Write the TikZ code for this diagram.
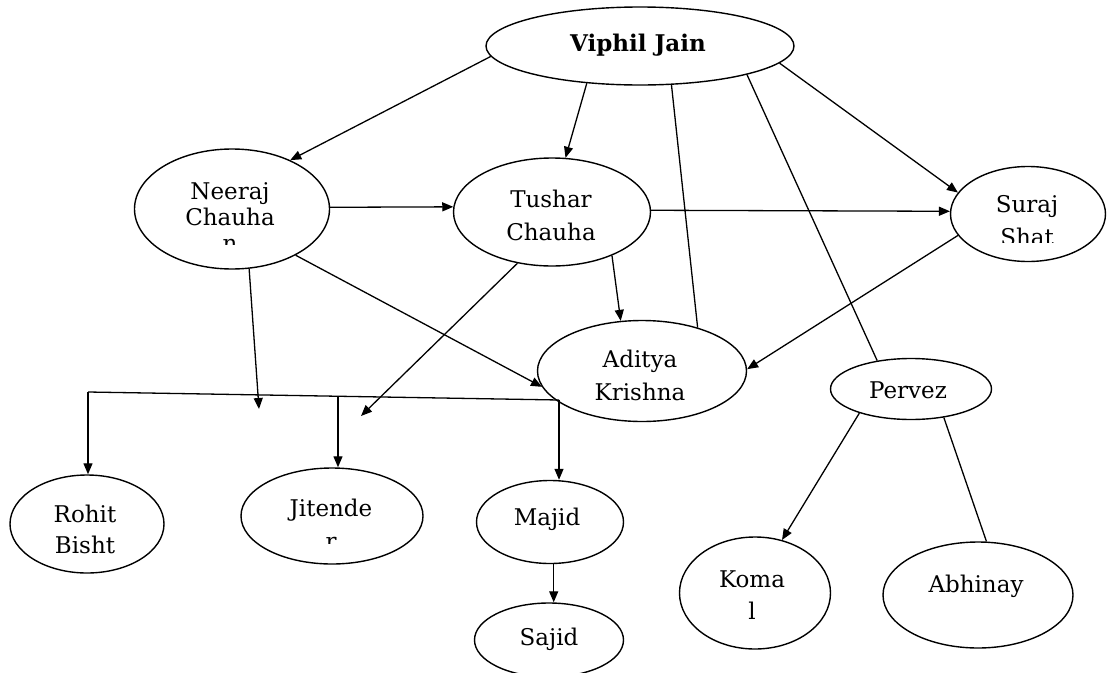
\documentclass[tikz,border=0pt]{standalone}
\usepackage{fontspec}
\setmainfont{DejaVu Serif}
\usetikzlibrary{shapes.geometric, arrows.meta}

\newcommand{\stacked}[1]{\begin{tabular}[t]{@{}c@{}}#1\end{tabular}}

\begin{document}
\begin{tikzpicture}[x=1pt, y=-1pt,
  person/.style={ellipse, draw, line width=1.4pt, inner sep=0pt},
  lbl/.style={anchor=base, inner sep=0pt, font=\fontsize{23}{33}\selectfont},
  link/.style={line width=1.3pt},
  arr/.style={link, -{Triangle[length=11pt, width=9pt]}}]
  \useasboundingbox[fill=white] (0,0) rectangle (1111,672);

  % people
  \node[person, minimum width=308pt, minimum height=78pt] (viphil) at (640,46) {};
  \node[person, minimum width=195pt, minimum height=120pt] (neeraj) at (232,209) {};
  \node[person, minimum width=197pt, minimum height=108pt] (tushar) at (552,212) {};
  \node[person, minimum width=155pt, minimum height=95pt] (suraj) at (1028,214) {};
  \node[person, minimum width=209pt, minimum height=101pt] (aditya) at (642,371) {};
  \node[person, minimum width=161pt, minimum height=61pt] (pervez) at (911,389) {};
  \node[person, minimum width=154pt, minimum height=98pt] (rohit) at (87,524) {};
  \node[person, minimum width=182pt, minimum height=96pt] (jitender) at (332,516) {};
  \node[person, minimum width=147pt, minimum height=83pt] (majid) at (550,522) {};
  \node[person, minimum width=149pt, minimum height=74pt] (sajid) at (549,640) {};
  \node[person, minimum width=151pt, minimum height=112pt] (koma) at (755,593) {};
  \node[person, minimum width=190pt, minimum height=106pt] (abhinay) at (978,595) {};

  % names
  \node[lbl, font=\fontsize{23}{27}\selectfont\bfseries] (viphil-t) at (638,51) {Viphil Jain};
  \begin{scope}
    \clip (130,140) rectangle (335,244);
    \node[lbl, font=\fontsize{23}{26}\selectfont] (neeraj-t) at (230,199) {\stacked{Neeraj\\Chauha\\n}};
  \end{scope}
  \node[lbl] (tushar-t) at (551,207) {\stacked{Tushar\\Chauha}};
  \begin{scope}
    \clip (945,160) rectangle (1111,242);
    \node[lbl] (suraj-t) at (1027,212) {\stacked{Suraj\\Shat}};
  \end{scope}
  \node[lbl] (aditya-t) at (640,367) {\stacked{Aditya\\Krishna}};
  \node[lbl] (pervez-t) at (908,398) {Pervez};
  \begin{scope}
    \clip (5,470) rectangle (170,553);
    \node[lbl, font=\fontsize{23}{31}\selectfont] (rohit-t) at (85,522) {\stacked{Rohit\\Bisht}};
  \end{scope}
  \begin{scope}
    \clip (235,460) rectangle (430,543);
    \node[lbl] (jitender-t) at (331,516) {\stacked{Jitende\\r}};
  \end{scope}
  \node[lbl] (majid-t) at (547,525) {Majid};
  \node[lbl] (sajid-t) at (549,645) {Sajid};
  \node[lbl, font=\fontsize{23}{32}\selectfont] (koma-t) at (752,587) {\stacked{Koma\\l}};
  \node[lbl] (abhinay-t) at (976,592) {Abhinay};

  % branch bar
  \coordinate (bar-w) at (88,392);
  \coordinate (bar-m) at (338,397);
  \coordinate (bar-e) at (559,400);
  \coordinate (drop-a) at (259,409);
  \coordinate (drop-b) at (361,416);

  % links
  \draw[arr] (viphil.184) -- (neeraj.40);
  \draw[arr] (viphil.215) -- (tushar.76);
  \draw[link] (viphil.309) -- (aditya.38);
  \draw[link] (viphil.345) -- (pervez.140);
  \draw[arr] (viphil.353) -- (suraj.163);
  \draw[arr] (neeraj.1) -- (tushar.177);
  \draw[arr] (tushar.1) -- (suraj.178);
  \draw[arr] (tushar.324) -- (aditya.113);
  \draw[arr] (suraj.197) -- (aditya.1);
  \draw[arr] (neeraj.324) -- (aditya.189);
  \draw[arr] (neeraj.286) -- (drop-a);
  \draw[arr] (tushar.236) -- (drop-b);
  \draw[link] (bar-w) -- (bar-e);
  \draw[arr] (bar-w) -- (bar-w |- rohit.north);
  \draw[arr] (bar-m) -- (bar-m |- jitender.north);
  \draw[arr] (bar-e) -- (bar-e |- majid.north);
  \draw[arr] (majid.275) -- (majid.275 |- sajid.north);
  \draw[arr] (pervez.205) -- (koma.63);
  \draw[link] (pervez.319) -- (abhinay.81);
\end{tikzpicture}
\end{document}
